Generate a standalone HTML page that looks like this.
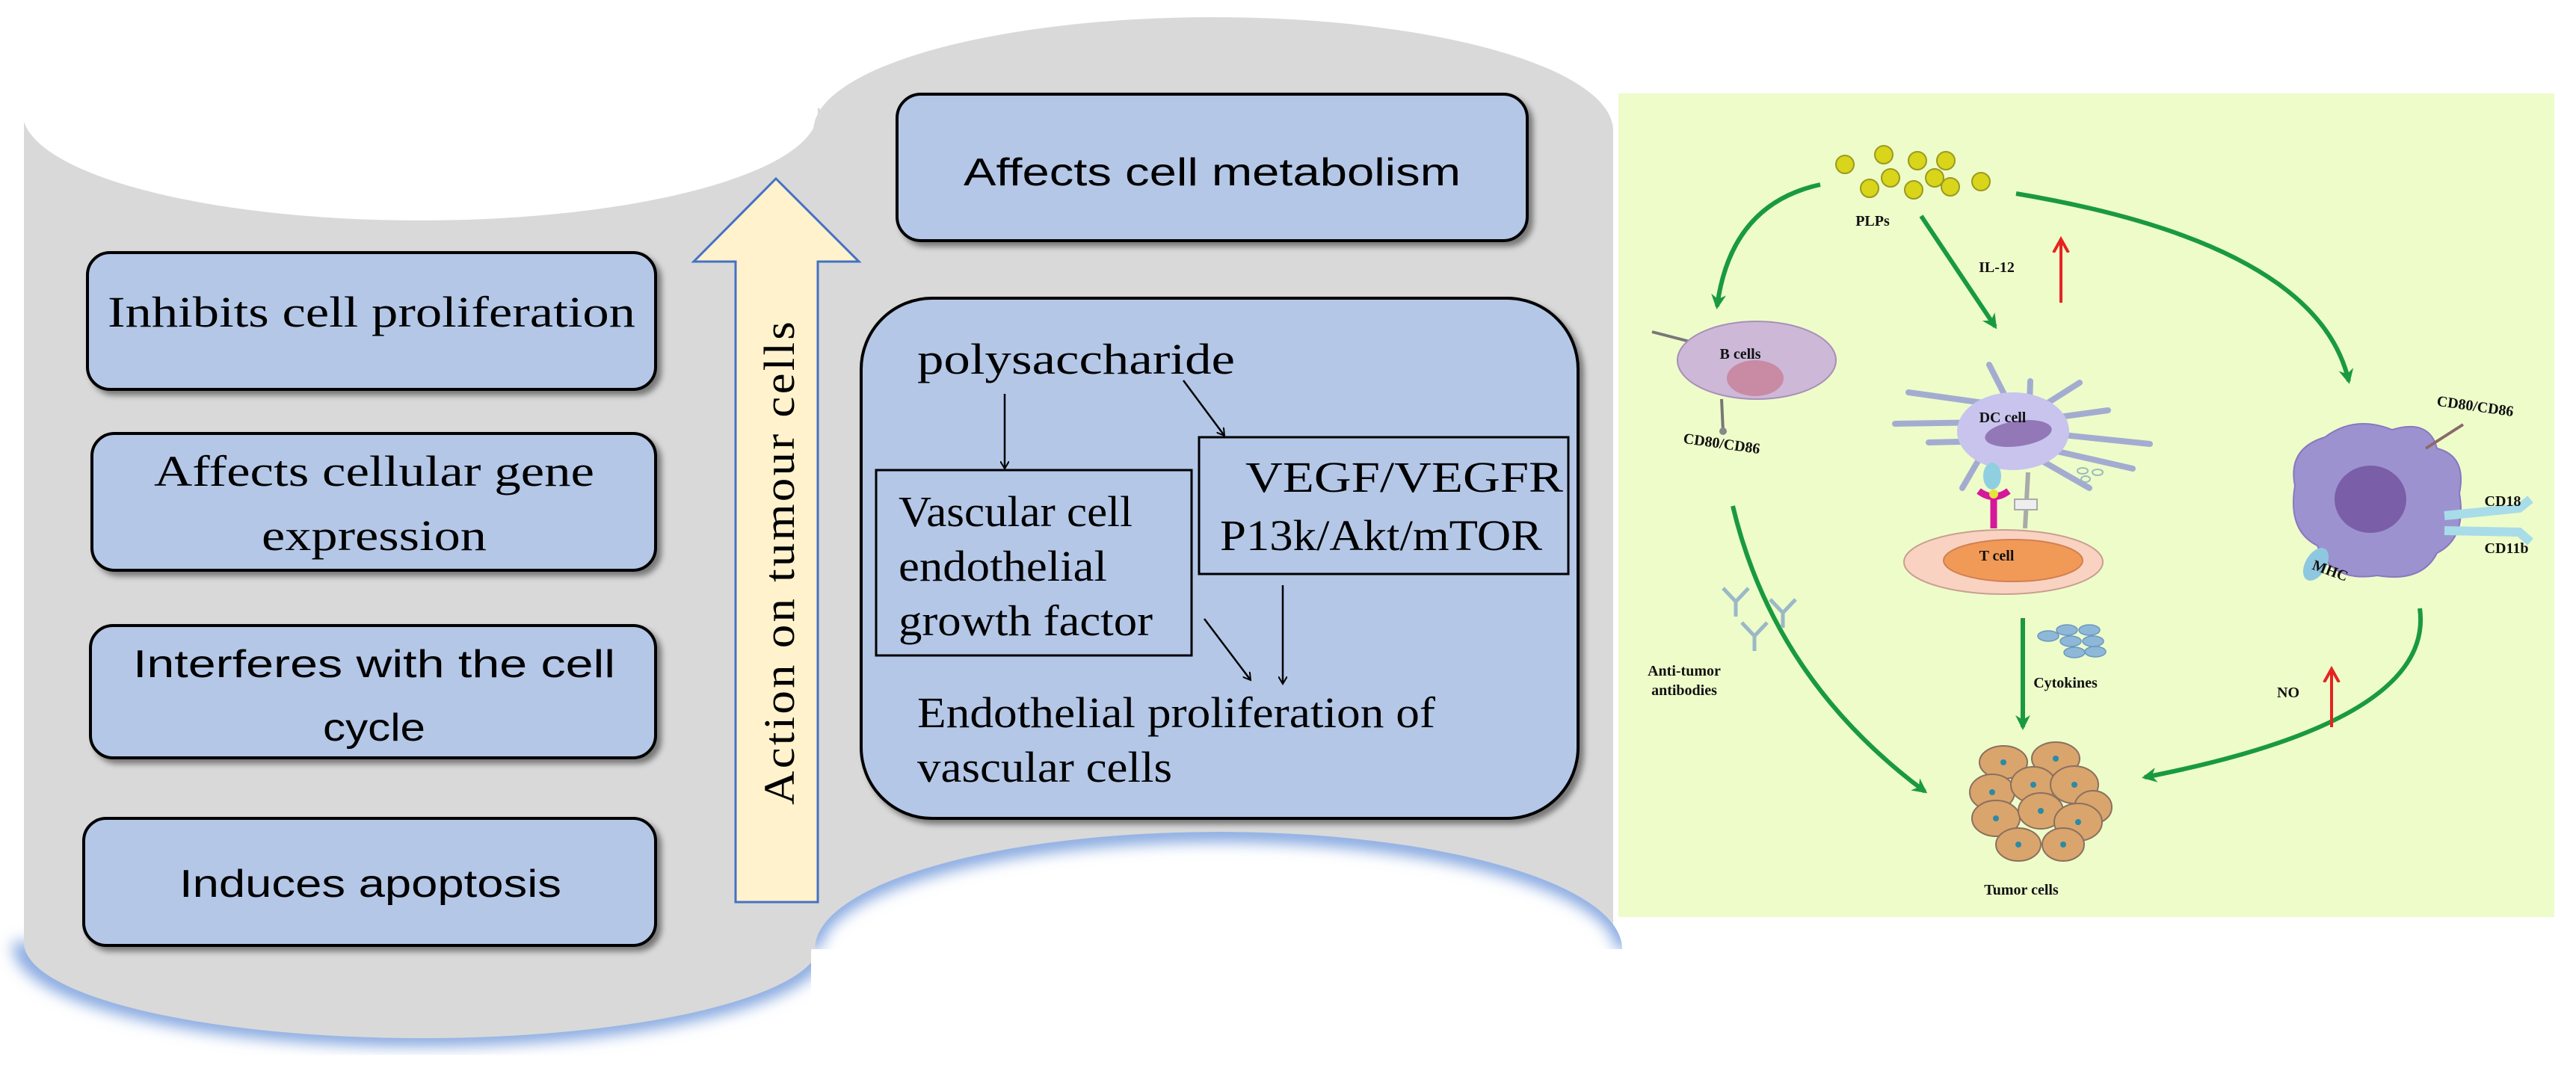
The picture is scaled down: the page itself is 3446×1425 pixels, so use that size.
<!DOCTYPE html>
<html><head><meta charset="utf-8"><style>
html,body{margin:0;padding:0;background:#fff;}
svg{display:block;}
</style></head><body>
<svg width="3446" height="1425" viewBox="0 0 3446 1425" xmlns="http://www.w3.org/2000/svg">
<defs>
<filter id="blur" x="-20%" y="-20%" width="140%" height="140%"><feGaussianBlur stdDeviation="10"/></filter>
<filter id="sh" x="-10%" y="-10%" width="130%" height="130%"><feDropShadow dx="6" dy="6" stdDeviation="4" flood-color="#000" flood-opacity="0.45"/></filter>
<marker id="ah" markerWidth="12" markerHeight="12" refX="10" refY="6" orient="auto" markerUnits="userSpaceOnUse" viewBox="0 0 12 12"><path d="M0,0 L10,6 L0,12" fill="none" stroke="#000" stroke-width="2"/></marker>
<marker id="ga" markerWidth="24" markerHeight="24" refX="16" refY="12" orient="auto" markerUnits="userSpaceOnUse" viewBox="0 0 24 24"><path d="M0,2 L20,12 L0,22 L6,12 Z" fill="#1a9a3e"/></marker>
<marker id="ra" markerWidth="24" markerHeight="24" refX="16" refY="12" orient="auto" markerUnits="userSpaceOnUse" viewBox="0 0 24 24"><path d="M0,2 L18,12 L0,22" fill="none" stroke="#e52420" stroke-width="4"/></marker>
</defs>
<rect width="3446" height="1425" fill="#fff"/>

<!-- left cylinder glow -->
<path d="M30,1261 A532,125 0 0 0 1097,1261" fill="none" stroke="#7fa3de" stroke-width="26" filter="url(#blur)"/>
<line x1="30" y1="150" x2="30" y2="1260" stroke="#a9c0e6" stroke-width="8" filter="url(#blur)"/>
<!-- left cylinder -->
<path d="M32,145 L1097,145 L1097,1261 A532,128 0 0 1 32,1261 Z" fill="#d9d9d9"/>
<ellipse cx="562" cy="150" rx="532" ry="145" fill="#fff"/>
<!-- right cylinder -->
<path d="M1088,175 A535,152 0 0 1 2158,175 L2158,1265 L1088,1265 Z" fill="#d9d9d9"/>
<!-- bottom-right white cut with glow -->
<clipPath id="bc"><ellipse cx="1630" cy="1270" rx="540" ry="157"/></clipPath>
<ellipse cx="1630" cy="1270" rx="540" ry="157" fill="#fff"/>
<g clip-path="url(#bc)"><path d="M1085,1270 A545,157 0 0 1 2175,1270" fill="none" stroke="#7fa3de" stroke-width="26" filter="url(#blur)"/></g>
<rect x="1085" y="1270" width="1085" height="155" fill="#fff"/>

<!-- boxes -->
<g fill="#b4c7e7" stroke="#000" stroke-width="4" filter="url(#sh)">
<rect x="1200" y="126" width="843" height="196" rx="32"/>
<rect x="117" y="338" width="760" height="183" rx="30"/>
<rect x="123" y="580" width="754" height="183" rx="30"/>
<rect x="121" y="837" width="756" height="177" rx="30"/>
<rect x="112" y="1095" width="765" height="170" rx="30"/>
<rect x="1152" y="399" width="959" height="696" rx="95"/>
</g>

<!-- big arrow -->
<path d="M1038,239 L1149,350 L1094,350 L1094,1207 L984,1207 L984,350 L928,350 Z" fill="#fff2cc" stroke="#4472c4" stroke-width="3"/>
<text transform="translate(1062,752) rotate(-90)" text-anchor="middle" font-family="Liberation Serif, serif" font-size="58" letter-spacing="3" textLength="650" lengthAdjust="spacingAndGlyphs">Action on tumour cells</text>

<g font-family="Liberation Sans, sans-serif" font-size="52" fill="#000">
<text x="1289" y="248" textLength="665" lengthAdjust="spacingAndGlyphs">Affects cell metabolism</text>
<text x="178" y="906" textLength="645" lengthAdjust="spacingAndGlyphs">Interferes with the cell</text>
<text x="432" y="991" textLength="137" lengthAdjust="spacingAndGlyphs">cycle</text>
<text x="240" y="1200" textLength="511" lengthAdjust="spacingAndGlyphs">Induces apoptosis</text>
</g>
<g font-family="Liberation Serif, serif" font-size="58" fill="#000">
<text x="144" y="437" textLength="706" lengthAdjust="spacingAndGlyphs">Inhibits cell proliferation</text>
<text x="206" y="650" textLength="589" lengthAdjust="spacingAndGlyphs">Affects cellular gene</text>
<text x="350" y="736" textLength="301" lengthAdjust="spacingAndGlyphs">expression</text>
<text x="1227" y="500" textLength="425" lengthAdjust="spacingAndGlyphs">polysaccharide</text>
<text x="1666" y="658" textLength="425" lengthAdjust="spacingAndGlyphs">VEGF/VEGFR</text>
<text x="1632" y="736" textLength="431" lengthAdjust="spacingAndGlyphs">P13k/Akt/mTOR</text>
<text x="1202" y="704" textLength="313" lengthAdjust="spacingAndGlyphs">Vascular cell</text>
<text x="1202" y="777" textLength="279" lengthAdjust="spacingAndGlyphs">endothelial</text>
<text x="1202" y="850" textLength="340" lengthAdjust="spacingAndGlyphs">growth factor</text>
<text x="1227" y="973" textLength="693" lengthAdjust="spacingAndGlyphs">Endothelial proliferation of</text>
<text x="1227" y="1046" textLength="341" lengthAdjust="spacingAndGlyphs">vascular cells</text>
</g>
<rect x="1604" y="585" width="494" height="183" fill="none" stroke="#000" stroke-width="3"/>
<rect x="1172" y="629" width="422" height="248" fill="none" stroke="#000" stroke-width="3"/>
<g stroke="#000" stroke-width="2.5" fill="none" marker-end="url(#ah)">
<line x1="1344" y1="527" x2="1344" y2="627"/>
<line x1="1583" y1="509" x2="1638" y2="583"/>
<line x1="1611" y1="828" x2="1673" y2="910"/>
<line x1="1716" y1="783" x2="1716" y2="915"/>
</g>

<!-- right panel -->
<rect x="2165" y="125" width="1252" height="1102" fill="#eefcca"/>
<g fill="#d8d51a" stroke="#9a9a20" stroke-width="2">
<circle cx="2468" cy="220" r="12"/><circle cx="2520" cy="207" r="12"/><circle cx="2565" cy="215" r="12"/><circle cx="2603" cy="215" r="12"/>
<circle cx="2529" cy="238" r="12"/><circle cx="2501" cy="252" r="12"/><circle cx="2560" cy="254" r="12"/><circle cx="2588" cy="238" r="12"/>
<circle cx="2609" cy="250" r="12"/><circle cx="2650" cy="243" r="12"/>
</g>
<g stroke="#1a9a3e" stroke-width="6" fill="none" marker-end="url(#ga)">
<path d="M2435,247 Q2315,273 2297,410"/>
<path d="M2570,289 L2669,437"/>
<path d="M2697,259 Q3100,327 3142,510"/>
<path d="M2318,677 Q2373,909 2575,1059"/>
<path d="M2706,827 L2706,973"/>
<path d="M3237,814 Q3258,964 2869,1040"/>
</g>
<g stroke="#e52420" stroke-width="4" fill="none" marker-end="url(#ra)">
<line x1="2757" y1="405" x2="2757" y2="322"/>
<line x1="3119" y1="973" x2="3119" y2="897"/>
</g>
<!-- B cell -->
<line x1="2210" y1="444" x2="2272" y2="460" stroke="#777" stroke-width="4"/>
<ellipse cx="2350" cy="482" rx="106" ry="52" fill="#cdb8d8" stroke="#a890b8" stroke-width="2"/>
<ellipse cx="2348" cy="506" rx="38" ry="24" fill="#c98aa3"/>
<line x1="2303" y1="534" x2="2305" y2="577" stroke="#777" stroke-width="4"/><circle cx="2305" cy="577" r="5" fill="#888"/>
<!-- DC cell -->
<g stroke="#a3acd0" stroke-width="8" stroke-linecap="round">
<line x1="2660" y1="540" x2="2553" y2="525"/><line x1="2660" y1="565" x2="2535" y2="567"/><line x1="2670" y1="590" x2="2580" y2="592"/>
<line x1="2690" y1="545" x2="2661" y2="488"/><line x1="2715" y1="540" x2="2716" y2="510"/><line x1="2730" y1="545" x2="2782" y2="512"/>
<line x1="2740" y1="560" x2="2820" y2="549"/><line x1="2740" y1="580" x2="2876" y2="594"/><line x1="2735" y1="600" x2="2853" y2="627"/>
<line x1="2720" y1="610" x2="2795" y2="653"/><line x1="2650" y1="610" x2="2625" y2="653"/>
</g>
<ellipse cx="2693" cy="577" rx="75" ry="52" fill="#c8c4ee"/>
<ellipse cx="2700" cy="580" rx="45" ry="17" fill="#9378b8" transform="rotate(-8 2700 580)"/>
<ellipse cx="2665" cy="637" rx="12" ry="18" fill="#8fcfe0"/>
<path d="M2647,657 Q2667,672 2687,657 M2667,665 L2667,707" stroke="#d6199a" stroke-width="9" fill="none"/>
<circle cx="2667" cy="661" r="6" fill="#e7e43a"/>
<line x1="2713" y1="632" x2="2709" y2="707" stroke="#aaa" stroke-width="6"/>
<rect x="2695" y="668" width="30" height="14" fill="#eee" stroke="#aaa" stroke-width="2"/>
<g fill="none" stroke="#9bb" stroke-width="2"><ellipse cx="2786" cy="630" rx="7" ry="4"/><ellipse cx="2806" cy="632" rx="7" ry="4"/><ellipse cx="2790" cy="641" rx="6" ry="4"/></g>
<!-- T cell -->
<ellipse cx="2680" cy="752" rx="133" ry="43" fill="#f9d2c2" stroke="#c8a090" stroke-width="2"/>
<ellipse cx="2693" cy="750" rx="93" ry="28" fill="#f19a58" stroke="#d08050" stroke-width="2"/>
<!-- cytokines -->
<g fill="#8fb8d8" stroke="#6a98c0" stroke-width="1.5">
<ellipse cx="2740" cy="851" rx="14" ry="7"/><ellipse cx="2765" cy="843" rx="14" ry="7"/><ellipse cx="2795" cy="843" rx="14" ry="7"/>
<ellipse cx="2770" cy="858" rx="14" ry="7"/><ellipse cx="2800" cy="858" rx="14" ry="7"/><ellipse cx="2775" cy="873" rx="14" ry="7"/><ellipse cx="2803" cy="872" rx="14" ry="7"/>
</g>
<!-- antibodies -->
<g stroke="#9ab8c8" stroke-width="5" fill="none">
<path d="M2305,787 L2322,805 L2339,787 M2322,805 L2322,825"/>
<path d="M2368,802 L2385,820 L2402,802 M2385,820 L2385,840"/>
<path d="M2330,833 L2347,851 L2364,833 M2347,851 L2347,871"/>
</g>
<!-- macrophage -->
<path d="M3070,650 Q3060,600 3110,585 Q3150,555 3200,575 Q3250,560 3260,600 Q3300,610 3290,660 Q3300,720 3260,740 Q3240,780 3180,770 Q3120,780 3100,730 Q3060,710 3070,650 Z" fill="#9d92d0" stroke="#8878c0" stroke-width="2"/>
<ellipse cx="3171" cy="668" rx="48" ry="45" fill="#7a5ea8"/>
<line x1="3245" y1="600" x2="3295" y2="568" stroke="#8a6a6a" stroke-width="4"/>
<path d="M3270,690 L3370,680 L3385,668 M3270,710 L3370,712 L3385,725" stroke="#a8dce8" stroke-width="12" fill="none"/>
<ellipse cx="3098" cy="755" rx="14" ry="24" fill="#8ec8e0" transform="rotate(30 3098 755)"/>
<!-- tumor cells -->
<g fill="#d9a56c" stroke="#8a7060" stroke-width="2">
<ellipse cx="2680" cy="1020" rx="32" ry="22"/><ellipse cx="2750" cy="1015" rx="32" ry="22"/>
<ellipse cx="2665" cy="1060" rx="30" ry="24"/><ellipse cx="2720" cy="1050" rx="30" ry="24"/><ellipse cx="2775" cy="1050" rx="32" ry="25"/><ellipse cx="2800" cy="1080" rx="25" ry="22"/>
<ellipse cx="2670" cy="1095" rx="32" ry="24"/><ellipse cx="2730" cy="1085" rx="30" ry="24"/><ellipse cx="2780" cy="1100" rx="32" ry="25"/>
<ellipse cx="2700" cy="1130" rx="30" ry="22"/><ellipse cx="2760" cy="1130" rx="28" ry="22"/>
</g>
<g fill="#2a8aa8"><circle cx="2680" cy="1020" r="4"/><circle cx="2750" cy="1015" r="4"/><circle cx="2665" cy="1060" r="4"/><circle cx="2720" cy="1050" r="4"/><circle cx="2775" cy="1050" r="4"/><circle cx="2670" cy="1095" r="4"/><circle cx="2730" cy="1085" r="4"/><circle cx="2780" cy="1100" r="4"/><circle cx="2700" cy="1130" r="4"/><circle cx="2760" cy="1130" r="4"/></g>
<g font-family="Liberation Serif, serif" font-size="20" font-weight="bold" fill="#111">
<text x="2505" y="302" text-anchor="middle">PLPs</text>
<text x="2671" y="364" text-anchor="middle">IL-12</text>
<text x="2328" y="480" text-anchor="middle">B cells</text>
<text x="2303" y="600" text-anchor="middle" transform="rotate(8 2303 595)">CD80/CD86</text>
<text x="2679" y="565" text-anchor="middle">DC cell</text>
<text x="2671" y="750" text-anchor="middle">T cell</text>
<text x="2253" y="904" text-anchor="middle">Anti-tumor</text>
<text x="2253" y="930" text-anchor="middle">antibodies</text>
<text x="2763" y="920" text-anchor="middle">Cytokines</text>
<text x="3311" y="550" text-anchor="middle" transform="rotate(8 3311 545)">CD80/CD86</text>
<text x="3348" y="677" text-anchor="middle">CD18</text>
<text x="3353" y="740" text-anchor="middle">CD11b</text>
<text x="3117" y="770" text-anchor="middle" transform="rotate(20 3117 764)">MHC</text>
<text x="3061" y="933" text-anchor="middle">NO</text>
<text x="2704" y="1197" text-anchor="middle">Tumor cells</text>
</g>
</svg>
</body></html>
